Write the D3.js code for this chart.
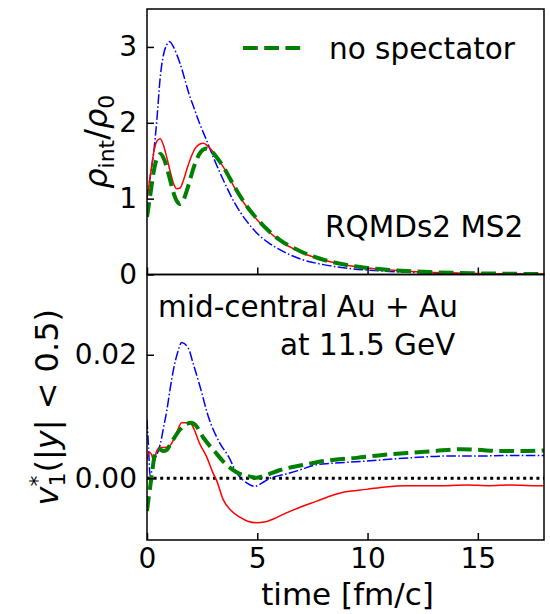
<!DOCTYPE html>
<html>
<head>
<meta charset="utf-8">
<script src="https://cdn.jsdelivr.net/npm/d3@7"></script>
<style>
  body { margin: 0; background: #fff; }
  svg { display: block; font-family: "DejaVu Sans", sans-serif; }
</style>
</head>
<body>
<div id="chart"></div>
<script>
// ---- data ----
// top panel: rho_int / rho_0 vs time
var tRhoBlue = [0, 0.15, 0.3, 0.45, 0.6, 0.75, 0.9, 1.0, 1.1, 1.2, 1.5, 1.95, 2.1, 2.4, 2.7, 3.0, 3.5, 4.0, 4.5, 5.0, 5.5, 6.0, 7, 8, 9, 10, 11, 12, 13, 14, 15, 16, 17, 18];
var rhoBlue  = [1.0, 1.3, 1.6, 2.05, 2.6, 2.9, 3.03, 3.07, 3.05, 3.0, 2.78, 2.34, 2.22, 1.98, 1.77, 1.55, 1.22, 0.93, 0.71, 0.54, 0.42, 0.33, 0.2, 0.13, 0.085, 0.058, 0.04, 0.028, 0.02, 0.014, 0.01, 0.008, 0.006, 0.005];

var tRhoRed = [0, 0.15, 0.3, 0.45, 0.6, 0.75, 0.9, 1.05, 1.2, 1.35, 1.5, 1.65, 1.8, 2.0, 2.2, 2.4, 2.55, 2.7, 2.9, 3.2, 3.5, 4.0, 4.5, 5.0, 5.5, 6.0, 7, 8, 9, 10, 11, 12, 13, 14, 15, 16, 17, 18];
var rhoRed  = [1.0, 1.3, 1.6, 1.76, 1.79, 1.7, 1.54, 1.36, 1.2, 1.13, 1.14, 1.24, 1.38, 1.55, 1.67, 1.72, 1.73, 1.71, 1.65, 1.53, 1.4, 1.13, 0.9, 0.72, 0.57, 0.45, 0.29, 0.19, 0.125, 0.085, 0.058, 0.04, 0.028, 0.02, 0.014, 0.01, 0.008, 0.006];

var tRhoGreen = [0, 0.15, 0.3, 0.45, 0.62, 0.8, 1.0, 1.2, 1.35, 1.5, 1.65, 1.8, 2.0, 2.2, 2.45, 2.7, 2.9, 3.2, 3.5, 4.0, 4.5, 5.0, 5.5, 6.0, 7, 8, 9, 10, 11, 12, 13, 14, 15, 16, 17, 18];
var rhoGreen  = [0.76, 1.05, 1.35, 1.53, 1.59, 1.5, 1.3, 1.08, 0.97, 0.93, 0.98, 1.1, 1.3, 1.48, 1.62, 1.66, 1.63, 1.53, 1.4, 1.14, 0.91, 0.73, 0.58, 0.46, 0.3, 0.195, 0.128, 0.087, 0.06, 0.042, 0.03, 0.021, 0.015, 0.011, 0.008, 0.006];

// bottom panel: v1*(|y|<0.5) vs time
var tV1Blue = [0, 0.07, 0.14, 0.22, 0.32, 0.45, 0.6, 0.75, 0.9, 1.05, 1.2, 1.4, 1.57, 1.87, 2.1, 2.4, 2.78, 3.3, 3.7, 4.06, 4.5, 4.9, 5.2, 5.58, 6.2, 6.8, 7.7, 8.3, 9.65, 11.9, 13.7, 15, 16.5, 18];
var v1Blue  = [0.0095, 0.005, 0.0004, 0.0012, 0.0026, 0.0038, 0.0055, 0.0082, 0.011, 0.0145, 0.0176, 0.0205, 0.022, 0.0211, 0.0185, 0.0149, 0.010, 0.0057, 0.0035, 0.0009, -0.0007, -0.0013, -0.0008, 0.0, 0.0006, 0.0012, 0.0022, 0.0024, 0.0027, 0.0033, 0.0036, 0.0036, 0.0037, 0.0037];

var tV1Red = [0, 0.1, 0.21, 0.3, 0.45, 0.6, 0.8, 1.04, 1.3, 1.57, 1.95, 2.1, 2.4, 2.7, 3.0, 3.15, 3.46, 3.8, 4.21, 4.6, 4.97, 5.3, 5.73, 6.2, 6.8, 7.7, 8.45, 9.0, 9.96, 10.8, 11.77, 12.5, 13.5, 14.5, 15.5, 16.5, 17.5, 18];
var v1Red  = [0.003, 0.0042, 0.0038, 0.0028, 0.0045, 0.005, 0.005, 0.0053, 0.007, 0.009, 0.009, 0.0082, 0.0055, 0.0035, 0.0008, -0.0003, -0.0035, -0.0052, -0.0063, -0.007, -0.0072, -0.0071, -0.0066, -0.0058, -0.0049, -0.0037, -0.0027, -0.0022, -0.0018, -0.0014, -0.0012, -0.0012, -0.0012, -0.0011, -0.0012, -0.0011, -0.0012, -0.0012];

var tV1Green = [0, 0.1, 0.21, 0.3, 0.4, 0.55, 0.74, 0.9, 1.04, 1.5, 1.75, 2.03, 2.2, 2.55, 3.1, 3.46, 3.8, 4.21, 4.5, 4.97, 5.4, 6.0, 7.0, 7.7, 8.5, 9.5, 10.5, 11.8, 13, 14.2, 15, 16, 17, 18];
var v1Green  = [-0.0053, -0.0025, 0.0003, 0.0028, 0.0045, 0.0047, 0.0044, 0.0046, 0.0054, 0.0079, 0.0087, 0.009, 0.0086, 0.0066, 0.0042, 0.0027, 0.0016, 0.0007, 0.0004, 0.0001, 0.0005, 0.0013, 0.0021, 0.0026, 0.003, 0.0033, 0.0037, 0.0041, 0.0044, 0.0047, 0.0046, 0.0044, 0.0044, 0.0045];

var xTicks = [0, 5, 10, 15];
var rhoTicks = [0, 1, 2, 3];
var v1Ticks = [0, 0.02];
var legendLabel = "no spectator";
var modelLabel = "RQMDs2 MS2";
var systemLabel = ["mid-central Au + Au", "at 11.5 GeV"];

// ---- layout ----
var W = 550, H = 614;
var left = 147, right = 544;
var top1 = 9, bot1 = 274.5, top2 = 274.5, bot2 = 540;

var svg = d3.select("#chart").append("svg")
    .attr("width", W)
    .attr("height", H);

var x = d3.scaleLinear().domain([0, 18]).range([left, right]);
var yRho = d3.scaleLinear().domain([0, 3.5]).range([bot1, top1]);
var yV1 = d3.scaleLinear().domain([-0.01, 0.033]).range([bot2, top2]);

function pairs(t, v) { return t.map(function(d, i) { return {t: d, v: v[i]}; }); }

// clip paths
var defs = svg.append("defs");
defs.append("clipPath").attr("id", "clip1").append("rect")
  .attr("x", left).attr("y", top1).attr("width", right - left).attr("height", bot1 - top1);
defs.append("clipPath").attr("id", "clip2").append("rect")
  .attr("x", left).attr("y", top2).attr("width", right - left).attr("height", bot2 - top2);

function drawLine(g, data, yScale, color, width, dash) {
  var p = g.append("path")
    .datum(data)
    .attr("fill", "none")
    .attr("stroke", color)
    .attr("stroke-width", width)
    .attr("d", d3.line()
      .curve(d3.curveMonotoneX)
      .x(function(d) { return x(d.t); })
      .y(function(d) { return yScale(d.v); }));
  if (dash) p.style("stroke-dasharray", dash);
  return p;
}

// top panel
var g1 = svg.append("g").attr("clip-path", "url(#clip1)");
drawLine(g1, pairs(tRhoBlue, rhoBlue), yRho, "blue", 1.5, "9.6,2.4,1.5,2.4");
drawLine(g1, pairs(tRhoRed, rhoRed), yRho, "red", 1.5, null);
drawLine(g1, pairs(tRhoGreen, rhoGreen), yRho, "green", 4, "14.8,6.4");

// bottom panel
var g2 = svg.append("g").attr("clip-path", "url(#clip2)");
g2.append("line")
  .attr("x1", left).attr("x2", right)
  .attr("y1", yV1(0)).attr("y2", yV1(0))
  .attr("stroke", "black").attr("stroke-width", 3)
  .style("stroke-dasharray", "3,3.6");
drawLine(g2, pairs(tV1Blue, v1Blue), yV1, "blue", 1.5, "9.6,2.4,1.5,2.4");
drawLine(g2, pairs(tV1Red, v1Red), yV1, "red", 1.5, null);
drawLine(g2, pairs(tV1Green, v1Green), yV1, "green", 4, "14.8,6.4");

// axes (ticks pointing in)
function styleAxis(a) {
  a.select(".domain").remove();
  a.selectAll(".tick line").attr("stroke", "black").attr("stroke-width", 1.5);
  a.selectAll(".tick text").attr("font-size", 28).attr("fill", "black")
    .attr("font-family", "DejaVu Sans");
}

var ax1x = svg.append("g").attr("transform", "translate(0," + bot1 + ")")
  .call(d3.axisBottom(x).tickValues(xTicks).tickSizeInner(-7).tickSizeOuter(0).tickFormat(""));
styleAxis(ax1x);

var ax2x = svg.append("g").attr("transform", "translate(0," + bot2 + ")")
  .call(d3.axisBottom(x).tickValues(xTicks).tickSizeInner(-7).tickSizeOuter(0).tickPadding(8).tickFormat(d3.format("d")));
styleAxis(ax2x);

var ax1y = svg.append("g").attr("transform", "translate(" + left + ",0)")
  .call(d3.axisLeft(yRho).tickValues(rhoTicks).tickSizeInner(-7).tickSizeOuter(0).tickPadding(10).tickFormat(d3.format("d")));
styleAxis(ax1y);

var ax2y = svg.append("g").attr("transform", "translate(" + left + ",0)")
  .call(d3.axisLeft(yV1).tickValues(v1Ticks).tickSizeInner(-7).tickSizeOuter(0).tickPadding(10).tickFormat(d3.format(".2f")));
styleAxis(ax2y);

// frames
[[top1, bot1], [top2, bot2]].forEach(function(r) {
  svg.append("rect")
    .attr("x", left).attr("y", r[0])
    .attr("width", right - left).attr("height", r[1] - r[0])
    .attr("fill", "none").attr("stroke", "black").attr("stroke-width", 1.5);
});

// axis labels
svg.append("text")
  .attr("x", (left + right) / 2 + 2).attr("y", 605)
  .attr("text-anchor", "middle")
  .attr("font-size", 31)
  .text("time [fm/c]");

var ly1 = svg.append("text")
  .attr("transform", "translate(107," + ((top1 + bot1) / 2) + ") rotate(-90)")
  .attr("text-anchor", "middle")
  .attr("font-size", 32);
ly1.append("tspan").attr("font-style", "italic").text("ρ");
ly1.append("tspan").attr("font-size", 22).attr("dy", 7).text("int");
ly1.append("tspan").attr("dy", -7).text("/");
ly1.append("tspan").attr("font-style", "italic").text("ρ");
ly1.append("tspan").attr("font-size", 22).attr("dy", 7).text("0");

var ly2 = svg.append("text")
  .attr("transform", "translate(58," + ((top2 + bot2) / 2) + ") rotate(-90)")
  .attr("text-anchor", "middle")
  .attr("font-size", 32);
ly2.append("tspan").attr("font-style", "italic").text("v");
ly2.append("tspan").attr("font-size", 22).attr("dy", -13).text("*");
ly2.append("tspan").attr("font-size", 22).attr("dx", -11).attr("dy", 20).text("1");
ly2.append("tspan").attr("dy", -7).text("(|");
ly2.append("tspan").attr("font-style", "italic").text("y");
ly2.append("tspan").text("| < 0.5)");

// legend
var lg = svg.append("g");
lg.append("line")
  .attr("x1", 243).attr("x2", 305).attr("y1", 48).attr("y2", 48)
  .attr("stroke", "green").attr("stroke-width", 4)
  .style("stroke-dasharray", "14.8,6.4");
lg.append("text")
  .attr("x", 329).attr("y", 59)
  .attr("font-size", 29.5)
  .text(legendLabel);

// annotations
svg.append("text").attr("x", 325).attr("y", 237).attr("font-size", 29.5).text(modelLabel);
svg.append("text").attr("x", 158).attr("y", 317).attr("font-size", 29.5).text(systemLabel[0]);
svg.append("text").attr("x", 280).attr("y", 355).attr("font-size", 29.5).text(systemLabel[1]);
</script>
</body>
</html>
